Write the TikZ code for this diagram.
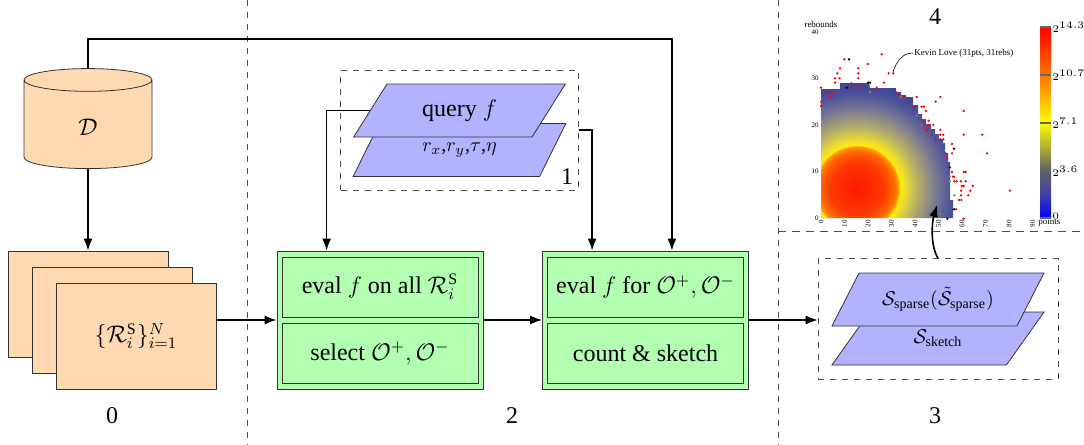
\documentclass[tikz,border=0pt]{standalone}
\usepackage{amsmath}
\usepackage{amssymb}
\usepackage{fontspec}
\setmainfont{Liberation Serif}
\usetikzlibrary{arrows.meta,fit,positioning,shapes.geometric}

\pgfdeclareradialshading{heatblob}{\pgfpoint{0bp}{0bp}}{rgb(0bp)=(1,0.1,0); rgb(6bp)=(1,0.22,0); rgb(8.5bp)=(1,0.42,0); rgb(9.4bp)=(1,0.62,0); rgb(9.8bp)=(1,0.92,0.05); rgb(11bp)=(0.92,0.86,0.2); rgb(14bp)=(0.7,0.67,0.42); rgb(18bp)=(0.47,0.47,0.58); rgb(21.5bp)=(0.3,0.32,0.6); rgb(25bp)=(0.23,0.25,0.6); rgb(50bp)=(0.23,0.25,0.6)}
\pgfdeclareverticalshading{heatbar}{100bp}{rgb(0bp)=(0,0,1); rgb(25bp)=(0,0,1); rgb(31bp)=(0.25,0.25,0.65); rgb(37.5bp)=(0.38,0.38,0.4); rgb(50bp)=(1,1,0); rgb(62.5bp)=(1,0.45,0); rgb(75bp)=(1,0,0); rgb(100bp)=(1,0,0)}

\begin{document}
\begin{tikzpicture}
	[x=0.5pt,y=-0.5pt,font=\large,
	sep/.style={dashed,black!70},
	conn/.style={->,>={Latex[length=6pt,width=4.5pt]},line width=0.8pt},
	store/.style={cylinder,shape border rotate=90,aspect=0.7,draw=black!80,fill=orange!30,minimum width=64pt,minimum height=50pt},
	sheet/.style={rectangle,draw=black!80,fill=orange!30,minimum width=80pt,minimum height=53pt},
	layer/.style={trapezium,trapezium left angle=55,trapezium right angle=125,trapezium stretches=true,draw=black!80,fill=blue!30,minimum width=106.5pt,minimum height=26.5pt,inner sep=1pt},
	box/.style={rectangle,draw=black!80,fill=green!30,minimum width=103pt,minimum height=69pt},
	cell/.style={rectangle,draw=black!80,fill=green!30,minimum width=98pt,minimum height=30pt},
	group/.style={rectangle,draw=black!70,dashed},
	tiny/.style={font=\fontsize{3.5}{4}\selectfont,inner sep=0.5pt},
	small/.style={font=\fontsize{4.5}{5}\selectfont,inner sep=0.5pt}]
	\useasboundingbox (0,0) rectangle (1084,445);
	
	\draw[sep] (247,0) -- (247,445);
	\draw[sep] (778,0) -- (778,445);
	\draw[sep,dash pattern=on 4pt off 3pt] (778,231) -- (1084,231);
	
	\node (d) [store] at (88,127) {$\mathcal{D}$};
	\node (r1) [sheet] at (88,304) {};
	\node (r2) [sheet] at (112,320) {};
	\node (r3) [sheet] at (136,336) {$\{\mathcal{R}^{\mathrm{S}}_i\}^N_{i=1}$};
	
	\node (b1) [box] at (380,320) {};
	\node (ev1) [cell] at (380,287) {eval $f$ on all $\mathcal{R}^{\mathrm{S}}_i$};
	\node (sel) [cell] at (380,353.5) {select $\mathcal{O}^+,\mathcal{O}^-$};
	\node (b2) [box] at (645.5,320) {};
	\node (ev2) [cell] at (645.5,287) {eval $f$ for $\mathcal{O}^+,\mathcal{O}^-$};
	\node (cnt) [cell] at (645.5,353.5) {count \& sketch};
	
	\node (rp) [layer,font=\normalsize] at (459.5,150) {$r_x$,$r_y$,$\tau$,$\eta$};
	\node (q) [layer] at (459.5,110.5) {query $f$};
	\node (g1) [group,fit=(q)(rp),inner xsep=12.5pt,inner ysep=6.5pt] {};
	\node (n1) [anchor=south east,inner sep=2.5pt] at (g1.south east) {1};
	
	\node (sk) [layer,font=\normalsize] at (938,338.5) {$\mathcal{S}_{\text{sketch}}$};
	\node (ss) [layer,font=\normalsize] at (938,299.5) {$\mathcal{S}_{\text{sparse}}(\tilde{\mathcal{S}}_{\text{sparse}})$};
	\node (g3) [group,fit=(ss)(sk),inner xsep=13.5pt,inner ysep=7pt] {};
	
	\node (l0) at (112,416) {0};
	\node (l2) at (512,416) {2};
	\node (l3) at (935,416) {3};
	\node (l4) at (935,17) {4};
	
	\begin{scope}
		\clip (821,218) -- (821,89) -- (840,89) -- (840,83) -- (869,83) -- (870,88) -- (896,88) -- (896,92) -- (901,92) -- (901,95) -- (906,95) -- (906,97) -- (913,97) -- (913,105) -- (918,105) -- (918,114) -- (922,114) -- (922,119) -- (926,119) -- (926,124) -- (931,124) -- (931,129) -- (935,129) -- (935,134) -- (939,134) -- (939,139) -- (943,139) -- (943,143) -- (945,143) -- (945,153) -- (948,153) -- (948,162) -- (950,162) -- (950,200) -- (953,200) -- (953,218) -- cycle;
		\shade[shading=heatblob] (857,188) circle (110);
	\end{scope}
	\foreach \p in {(821,87.7),(821,101.7),(821,106),(827.7,92.7),(832.3,92.7),(830,97),(835,82.7),(837.3,73.3),(840,68.3),(839.7,78.3),(835,78.3),(844.3,59.3),(851.3,83.3),(851.3,87.7),(858.3,68.3),(858.3,73.3),(858.3,78.3),(858.3,87.7),(867.7,64),(881.7,54.3),(884,82.7),(876.7,87.7),(888.7,73.3),(893.3,73.3),(896,92.3),(902.7,97),(907.7,101.7),(916.7,97),(914.7,106.7),(921.7,106.7),(924,106.7),(926,111),(924,120.7),(928.7,120.7),(924,125),(928.7,125),(933.3,125),(926.7,130),(931,134.7),(935.7,101.7),(940.3,97),(940.3,130),(940.3,134.7),(943.3,134.7),(935.7,139.3),(940.3,139.3),(943.3,139.3),(945.7,153.3),(952,144),(952,153.3),(947,158.3),(952,172),(953,176.7),(954.3,181.3),(961,181.3),(963.7,172),(965.7,172),(963.7,111),(963.7,134.7),(982.3,134.7),(987,153.3),(961.7,186),(963.7,186),(961,190.7),(965.7,181.3),(972.7,186),(970.3,190.7),(968.3,195.3),(961,195.3),(959,200),(961.3,200),(956,209.3),(963.7,218.7),(1010,190.7),(956.7,181.3),(954,176.7)}
		\fill[red] \p circle (1.3);
	\foreach \p in {(849,59.3),(868.3,82.7),(870,82.7),(846.7,87.7),(954,148.7),(949.7,167.3),(954,209.3),(947.3,218.7)}
		\fill[black] \p circle (1.3);
	\foreach \p in {(870,92),(900.7,97),(916.7,115.7),(921.7,125),(949.7,176.7),(949.7,181.3),(954.3,195.3),(940,214)}
		\fill[gray] \p circle (1.3);
	
	\foreach \v [count=\k] in {0,10,...,90}
		\node (xt\k) [tiny,rotate=90,anchor=east] at ({821+2.35*\v},219) {\v};
	\foreach \v [count=\k] in {0,10,...,40}
		\node (yt\k) [tiny,anchor=east] at (820,{218-4.65*\v}) {\v};
	\node (yl) [small] at (821,24) {rebounds};
	\node (xl) [small,anchor=west] at (1037,222) {points};
	
	\shade[shading=heatbar] (1040,27) rectangle (1051,218);
	\foreach \y in {27,75,123,171,218}
		\draw[black!60,line width=0.6pt] (1040,\y) -- (1051,\y);
	\foreach \t/\y [count=\k] in {$2^{14.3}$/27,$2^{10.7}$/75,$2^{7.1}$/123,$2^{3.6}$/171,$0$/216}
		\node (cb\k) [tiny,anchor=west] at (1051,\y) {\t};
	
	\node (kl) [small,anchor=west] at (913,53) {Kevin Love (31pts, 31rebs)};
	\coordinate (kd) at (893,72);
	\draw[black,line width=0.3pt] (kd) .. controls (897,60) and (903,53) .. (kl.west);
	
	\coordinate (hm) at (937,205);
	\draw[conn] (d.south) -- (r1.north);
	\draw[conn] (d.north) -- ++(0,-29) -| ([xshift=-38.5pt]b2.north east);
	\draw[conn] (b1.west -| r3.east) -- (b1.west);
	\draw[conn] (b1) -- (b2);
	\draw[conn] (b2.east) -- (b2.east -| g3.west);
	\draw[conn] (q.west) -| ([xshift=25pt]b1.north west);
	\draw[conn] (g1.east) -| ([xshift=25pt]b2.north west);
	\draw[conn] (g3.north) .. controls (930,245) and (932,222) .. (hm);
\end{tikzpicture}
\end{document}
